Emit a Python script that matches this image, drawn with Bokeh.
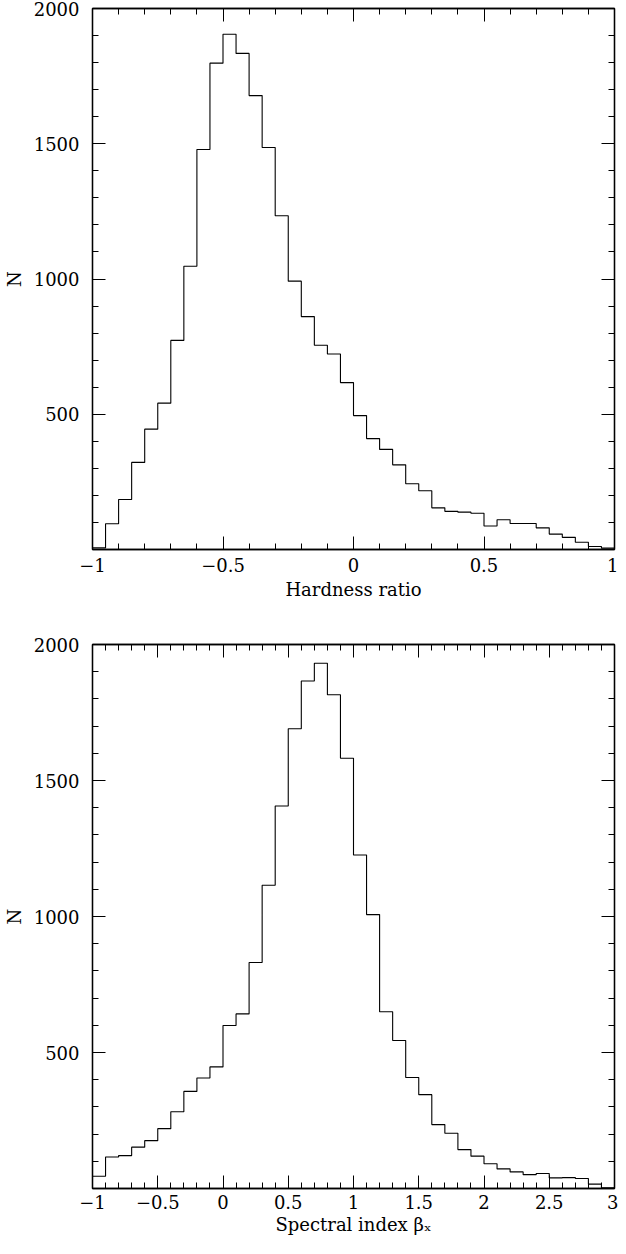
from bokeh.plotting import figure
from bokeh.models import Range1d, LinearAxis, FixedTicker, CustomLabelingPolicy
from bokeh.layouts import column
from bokeh.embed import file_html
from bokeh.resources import INLINE

# ---- data: top panel (hardness ratio histogram) ----
hr_bin_start = -1.0
hr_bin_width = 0.05
hr_counts = [6, 95, 185, 322, 445, 541, 773, 1047, 1479, 1798,
             1905, 1834, 1678, 1486, 1234, 992, 861, 755, 723, 617,
             495, 410, 370, 313, 243, 217, 154, 141, 138, 134,
             87, 110, 96, 96, 80, 57, 45, 27, 11, 5]
hr_ticks = [-1, -0.5, 0, 0.5, 1]
hr_tick_labels = ["\u22121", "\u22120.5", "0", "0.5", "1"]

# ---- data: bottom panel (spectral index histogram) ----
bx_bin_start = -1.0
bx_bin_width = 0.1
bx_counts = [45, 116, 121, 152, 176, 220, 282, 357, 406, 447,
             599, 642, 831, 1115, 1406, 1690, 1866, 1931, 1815, 1582,
             1226, 1007, 650, 544, 408, 345, 235, 203, 143, 119,
             91, 72, 61, 51, 55, 39, 40, 37, 16, 3]
bx_ticks = [-1, -0.5, 0, 0.5, 1, 1.5, 2, 2.5, 3]
bx_tick_labels = ["\u22121", "\u22120.5", "0", "0.5", "1", "1.5", "2", "2.5", "3"]

n_ticks = [500, 1000, 1500, 2000]
n_tick_labels = ["500", "1000", "1500", "2000"]

FONT = "DejaVu Serif"
FS = "18px"
WIDTH = 618


def style_axis(ax, ticks, minor, labels=None, show_labels=True):
    ax.ticker = FixedTicker(ticks=ticks, minor_ticks=minor)
    ax.major_tick_in = 13
    ax.major_tick_out = 0
    ax.minor_tick_in = 6
    ax.minor_tick_out = 0
    ax.major_tick_line_color = "black"
    ax.minor_tick_line_color = "black"
    ax.axis_line_color = "black"
    ax.axis_line_width = 1.3
    if show_labels:
        ax.major_label_text_font = FONT
        ax.major_label_text_font_size = FS
        ax.major_label_text_color = "black"
        if labels is not None:
            ax.major_label_overrides = {t: l for t, l in zip(ticks, labels)}
    else:
        ax.major_label_text_font_size = "0px"
        ax.major_label_standoff = 0
        ax.major_label_policy = CustomLabelingPolicy(
            code="const all = [...indices]; for (const i of all) indices.unset(i);")
    ax.axis_label_text_font = FONT
    ax.axis_label_text_font_size = FS
    ax.axis_label_text_font_style = "normal"
    ax.axis_label_text_color = "black"


def make_panel(bin_start, bin_width, counts, xmax, ticks, tick_labels, xlabel,
               height, b_top, b_bottom, lab_standoff, axlab_standoff):
    p = figure(width=WIDTH, height=height, output_backend="svg", toolbar_location=None,
               x_range=Range1d(bin_start, xmax), y_range=Range1d(0, 2000),
               min_border_left=88, min_border_right=4,
               min_border_top=b_top, min_border_bottom=b_bottom)
    p.xgrid.visible = False
    p.ygrid.visible = False
    p.outline_line_color = "black"
    p.outline_line_width = 1.3
    p.background_fill_color = "white"
    p.border_fill_color = "white"

    n = len(counts)
    edges = [bin_start + bin_width * i for i in range(n + 1)]
    ys = list(counts) + [counts[-1]]
    p.step(x=edges, y=ys, mode="after", line_color="black", line_width=1.1)

    nminor = int(round((xmax - bin_start) / 0.1))
    xminor = [bin_start + 0.1 * i for i in range(nminor + 1)]
    yminor = list(range(0, 2001, 100))

    style_axis(p.xaxis[0], ticks, xminor, tick_labels)
    p.xaxis[0].major_label_standoff = lab_standoff
    p.xaxis[0].axis_label = xlabel
    p.xaxis[0].axis_label_standoff = axlab_standoff

    style_axis(p.yaxis[0], n_ticks, yminor, n_tick_labels)
    p.yaxis[0].major_label_standoff = 13
    p.yaxis[0].axis_label = "N"
    p.yaxis[0].axis_label_standoff = 6

    top = LinearAxis()
    style_axis(top, ticks, xminor, show_labels=False)
    p.add_layout(top, "above")
    right = LinearAxis()
    style_axis(right, n_ticks, yminor, show_labels=False)
    p.add_layout(right, "right")
    return p


p1 = make_panel(hr_bin_start, hr_bin_width, hr_counts, 1.0, hr_ticks, hr_tick_labels,
                "Hardness ratio", 610, 8, 61, 8, 4)
p2 = make_panel(bx_bin_start, bx_bin_width, bx_counts, 3.0, bx_ticks, bx_tick_labels,
                "Spectral index \u03b2\u2093", 628, 34, 50, 6, 2)

layout = column(p1, p2, spacing=0)
open("out.html", "w").write(file_html(layout, INLINE))
